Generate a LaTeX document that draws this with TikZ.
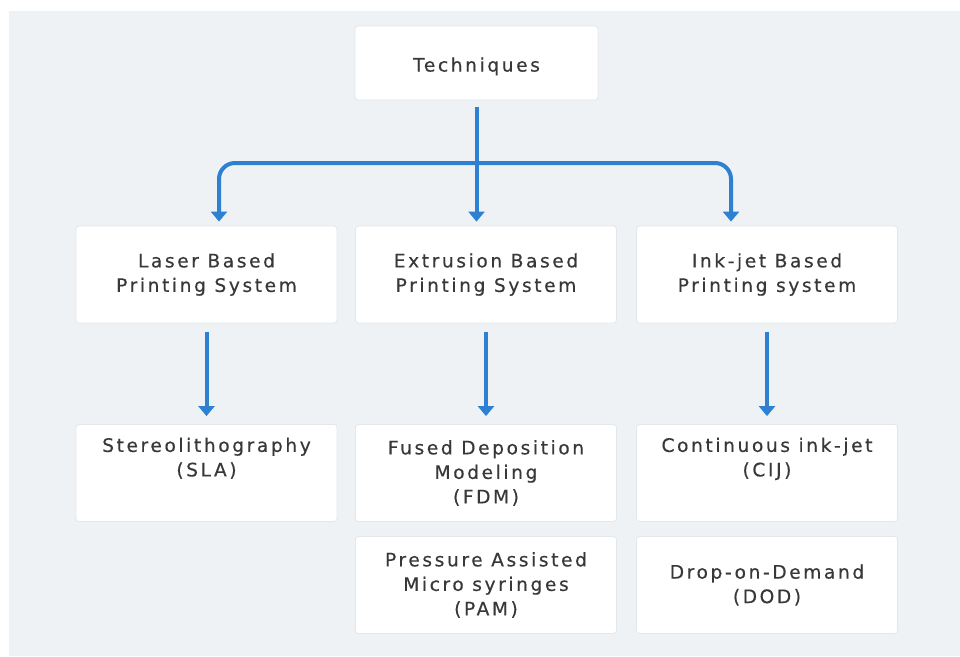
\documentclass[tikz,border=0pt]{standalone}
\usepackage{fontspec}
\setmainfont[LetterSpace=14,FakeBold=0.4]{DejaVu Sans}
\usetikzlibrary{arrows.meta}
\definecolor{bgc}{HTML}{EEF2F5}
\definecolor{boxline}{HTML}{E3E7EB}
\definecolor{arrc}{HTML}{2D80D2}
\definecolor{txt}{HTML}{383838}
\begin{document}
\begin{tikzpicture}[x=1pt,y=-1pt,
  box/.style={draw=boxline, line width=0.8pt, fill=white, rounded corners=3pt,
    minimum width=261pt, minimum height=97pt, align=center, text=txt,
    font=\fontsize{18.6}{24.5}\selectfont, inner sep=0pt,
    execute at begin node={\rule{0pt}{21pt}}},
  arr/.style={draw=arrc, line width=4pt, -{Triangle[width=16pt,length=10pt]}}]
\useasboundingbox (0,0) rectangle (960,656);
\fill[white] (0,0) rectangle (960,656);
\fill[bgc] (9,11) rectangle (960,656);

\node[box, minimum width=243pt, minimum height=74pt] (tech) at (476.5,63) {Techniques};
\node[box] (laser) at (206.5,274.5) {Laser Based\\Printing System};
\node[box] (ext) at (486,274.5) {Extrusion Based\\Printing System};
\node[box] (ink) at (767,274.5) {Ink-jet Based\\Printing system};
\node[box] (sla) at (206.5,473) {Stereolithography\\(SLA)\\\strut};
\node[box] (fdm) at (486,473) {Fused Deposition\\Modeling\\(FDM)};
\node[box] (cij) at (767,473) {Continuous ink-jet\\(CIJ)\\\strut};
\node[box] (pam) at (486,585) {Pressure Assisted\\Micro syringes\\(PAM)};
\node[box] (dod) at (767,585) {Drop-on-Demand\\(DOD)};

\coordinate (t0) at ([yshift=-7pt]tech.south);
\coordinate (jc) at (476.5,163);
\coordinate (lt) at ([xshift=12.5pt]laser.north);
\coordinate (rt) at ([xshift=-36pt]ink.north);
\draw[arr, shorten >=4pt] (t0) -- (t0 |- ext.north);
\draw[arr, shorten >=4pt, rounded corners=16pt] (jc) -| (lt);
\draw[arr, shorten >=4pt, rounded corners=16pt] (jc) -| (rt);

\draw[arr, shorten <=9pt, shorten >=8pt] (laser.south) -- (sla.north);
\draw[arr, shorten <=9pt, shorten >=8pt] (ext.south) -- (fdm.north);
\draw[arr, shorten <=9pt, shorten >=8pt] (ink.south) -- (cij.north);
\end{tikzpicture}
\end{document}
